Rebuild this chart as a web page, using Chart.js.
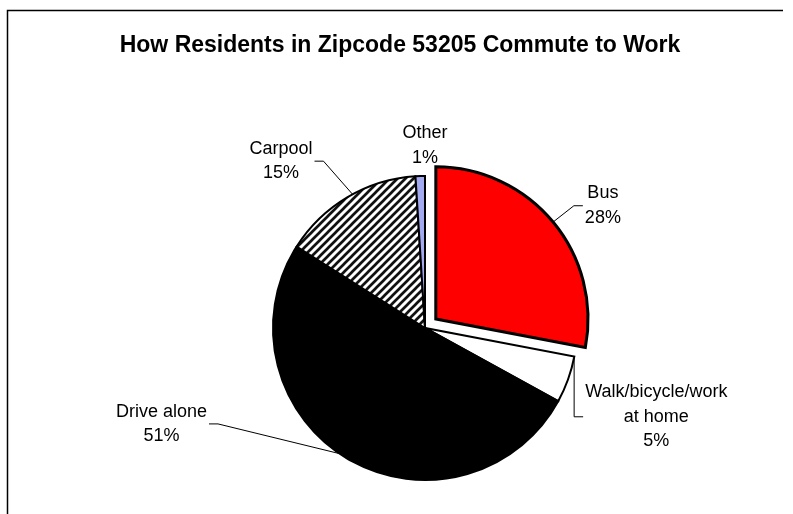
<!DOCTYPE html>
<html>
<head>
<meta charset="utf-8">
<script src="https://cdn.jsdelivr.net/npm/chart.js@4.4.0/dist/chart.umd.min.js"></script>
<style>
  body { margin: 0; background: #fff; }
  canvas { display: block; }
</style>
</head>
<body>
<canvas id="commuteChart" width="793" height="514"></canvas>
<script>
// data
const chartTitle = "How Residents in Zipcode 53205 Commute to Work";
const categories = ["Bus", "Walk/bicycle/work at home", "Drive alone", "Carpool", "Other"];
const shares = [28, 5, 51, 15, 1];
const percentLabels = shares.map(v => v + "%");

// where each callout sits: angle clockwise from 12 o'clock, distance in radii,
// and where along the slice its leader line touches the rim
const labelPlacement = [
    { angle: 55.5, dist: 1.42, anchor: 0.5, leader: true },
    { angle: 111, dist: 1.63, anchor: 0.02, leader: true },
    { angle: 250, dist: 1.845, anchor: 0.52, leader: true },
    { angle: 319.2, dist: 1.45, anchor: 0.54, leader: true },
    { angle: 0, dist: 1.2, anchor: 0.5, leader: false }
];

const labelFont = '18px "Liberation Sans", Arial, sans-serif';
const titleFont = 'bold 23px "Liberation Sans", Arial, sans-serif';
const lineHeight = 24.5;

makeStripes = () => {
    var c = document.createElement('canvas');
    c.width = 8;
    c.height = 8;
    var g = c.getContext('2d');
    g.fillStyle = '#fff';
    g.fillRect(0, 0, 8, 8);
    g.strokeStyle = '#111';
    g.lineWidth = 2.7;
    g.beginPath();
    g.moveTo(-2, 10); g.lineTo(10, -2);
    g.moveTo(-2, 2); g.lineTo(2, -2);
    g.moveTo(6, 10); g.lineTo(10, 6);
    g.stroke();
    return g.createPattern(c, 'repeat');
};

wrapText = (ctx, text, maxWidth) => {
    let words = text.split(' ');
    let lines = [];
    let current = '';
    for (var i = 0; i < words.length; i++) {
        let test = current ? current + ' ' + words[i] : words[i];
        if (current && ctx.measureText(test).width > maxWidth) {
            lines.push(current);
            current = words[i];
        } else {
            current = test;
        }
    }
    lines.push(current);
    return lines;
};

const frameAndTitle = {
    id: 'frameAndTitle',
    beforeDraw(chart) {
        const ctx = chart.ctx;
        ctx.save();
        ctx.fillStyle = '#fff';
        ctx.fillRect(0, 0, chart.width, chart.height);
        ctx.strokeStyle = '#000';
        ctx.lineWidth = 1.5;
        ctx.beginPath();
        ctx.moveTo(7.5, chart.height);
        ctx.lineTo(7.5, 10.5);
        ctx.lineTo(783, 10.5);
        ctx.stroke();
        ctx.font = titleFont;
        ctx.fillStyle = '#000';
        ctx.textAlign = 'center';
        ctx.textBaseline = 'middle';
        ctx.fillText(chartTitle, 400, 46);
        ctx.restore();
    }
};

const callouts = {
    id: 'callouts',
    afterDraw(chart) {
        const ctx = chart.ctx;
        const meta = chart.getDatasetMeta(0);
        ctx.save();
        ctx.font = labelFont;
        ctx.fillStyle = '#000';
        ctx.strokeStyle = '#000';
        ctx.lineWidth = 1;
        ctx.textAlign = 'center';
        ctx.textBaseline = 'middle';
        meta.data.forEach((arc, i) => {
            const p = arc.getProps(['x', 'y', 'startAngle', 'endAngle', 'outerRadius'], true);
            const place = labelPlacement[i];
            const mid = (p.startAngle + p.endAngle) / 2;
            const off = (arc.options.offset || 0) / 4;
            const cx = p.x + Math.cos(mid) * off;
            const cy = p.y + Math.sin(mid) * off;
            const a = p.startAngle + (p.endAngle - p.startAngle) * place.anchor;
            const ax = cx + Math.cos(a) * p.outerRadius;
            const ay = cy + Math.sin(a) * p.outerRadius;

            const la = (place.angle - 90) * Math.PI / 180;
            const lx = p.x + Math.cos(la) * p.outerRadius * place.dist;
            const ly = p.y + Math.sin(la) * p.outerRadius * place.dist;

            let lines = wrapText(ctx, categories[i], 160).concat([percentLabels[i]]);
            let w = 0;
            lines.forEach(t => { w = Math.max(w, ctx.measureText(t).width); });
            let top = ly - (lines.length - 1) * lineHeight / 2;
            lines.forEach((t, k) => ctx.fillText(t, lx, top + k * lineHeight));

            if (place.leader) {
                let dir = lx > ax ? -1 : 1;
                let edgeX = lx + dir * (w / 2 + 2);
                let stubX = edgeX + dir * 9;
                ctx.beginPath();
                ctx.moveTo(edgeX, ly);
                ctx.lineTo(stubX, ly);
                ctx.lineTo(ax, ay);
                ctx.stroke();
            }
        });
        ctx.restore();
    }
};

var ctxP = document.getElementById('commuteChart').getContext('2d');
var commutePie = new Chart(ctxP, {
    type: 'pie',
    data: {
        labels: categories,
        datasets: [{
            data: shares,
            backgroundColor: ['#ff0000', '#ffffff', '#000000', makeStripes(), '#a3aaf0'],
            borderColor: '#000',
            borderWidth: [3, 2, 2, 2, 2],
            borderJoinStyle: 'miter',
            offset: [56, 0, 0, 0, 0],
            radius: 152
        }]
    },
    options: {
        responsive: false,
        animation: false,
        events: [],
        layout: {
            padding: { left: 57, right: 0, top: 142, bottom: 0 }
        },
        plugins: {
            legend: { display: false },
            title: { display: false },
            tooltip: { enabled: false }
        }
    },
    plugins: [frameAndTitle, callouts]
});
</script>
</body>
</html>
